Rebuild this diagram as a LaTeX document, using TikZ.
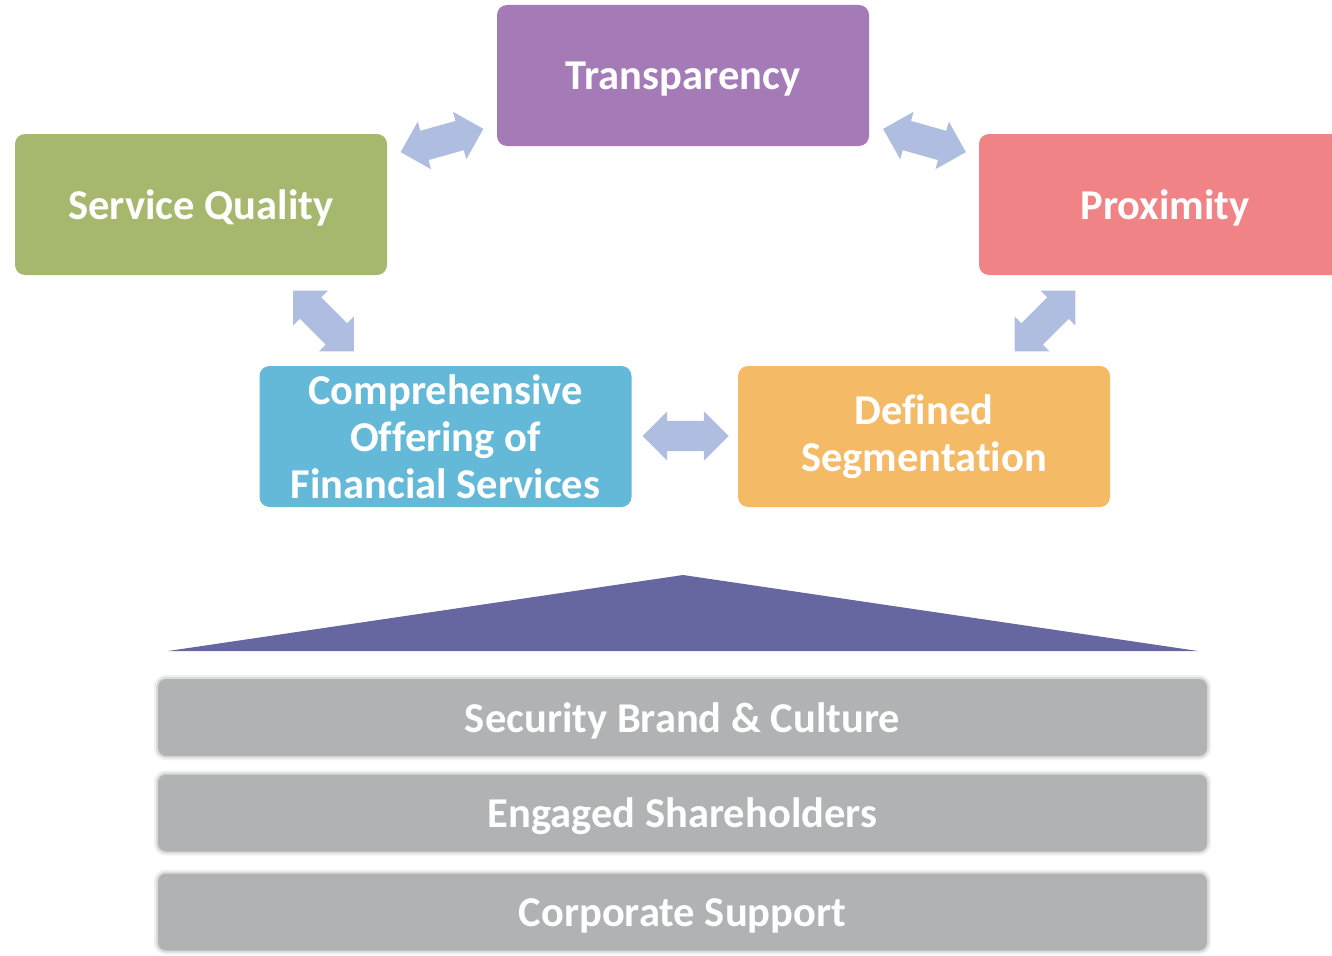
\documentclass[tikz,border=0pt]{standalone}
\usepackage{fontspec}
\setmainfont[Ligatures=NoCommon]{Carlito}
\usetikzlibrary{shapes.arrows}

\definecolor{transpurple}{HTML}{A57BB7}
\definecolor{servgreen}{HTML}{A6B86E}
\definecolor{proxred}{HTML}{F08386}
\definecolor{compblue}{HTML}{65B9D8}
\definecolor{segorange}{HTML}{F5BA65}
\definecolor{arrowblue}{HTML}{AFBDE0}
\definecolor{roofblue}{HTML}{6666A1}
\definecolor{layergray}{HTML}{B1B2B4}

\begin{document}
\begin{tikzpicture}[x=1pt, y=-1pt,
        box/.style={rectangle, rounded corners=10pt, minimum width=372pt, minimum height=141pt,
            inner sep=0pt, align=center, text=white, font=\fontsize{42.5}{47}\selectfont\bfseries},
        oneline/.style={text height=29pt, text depth=0pt},
        link/.style={double arrow, fill=arrowblue, inner xsep=0pt, inner ysep=15pt, minimum width=49pt,
            minimum height=86pt, double arrow head extend=9.5pt, double arrow tip angle=90},
        layer/.style={rectangle, rounded corners=8pt, minimum width=1049pt, minimum height=77pt,
            fill=layergray, preaction={draw=layergray, opacity=0.2, line width=8pt},
            preaction={draw=layergray, opacity=0.35, line width=4pt}, oneline,
            text=white, font=\fontsize{42.5}{47}\selectfont\bfseries}]
            \useasboundingbox (0, 0) rectangle (1332, 955);
            \clip (0, 0) rectangle (1332, 955);
            % pillars
            \node[box, oneline, fill=transpurple] (tr) at (683, 75.5) {Transparency};
            \node[box, oneline, fill=servgreen] (sq) at (201, 204.5) {Service Quality};
            \node[box, oneline, fill=proxred] (px) at (1165, 204.5) {Proximity};
            \node[box, fill=compblue] (co) at (445.5, 436.5) {Comprehensive\\Offering of\\Financial Services};
            \node[box, fill=segorange] (ds) at (924, 436.5) {Defined\\Segmentation};
            % links
            \node[link, rotate=15.7] (sqtr) at (442, 140.5) {};
            \node[link, rotate=-15.7] (trpx) at (924.5, 140.5) {};
            \node[link, rotate=-45] (sqco) at (323.5, 321) {};
            \node[link, rotate=45] (pxds) at (1045, 321) {};
            \node[link] (cods) at (685.5, 436) {};
            % roof
            \fill[roofblue] (683, 575) -- (1198, 651) -- (168, 651) -- cycle;
            % foundation
            \node[layer] (brand) at (682.5, 717.5) {Security Brand \& Culture};
            \node[layer] (share) at (682.5, 813) {Engaged Shareholders};
            \node[layer] (corp) at (682.5, 912) {Corporate Support};
    \end{tikzpicture}
\end{document}
